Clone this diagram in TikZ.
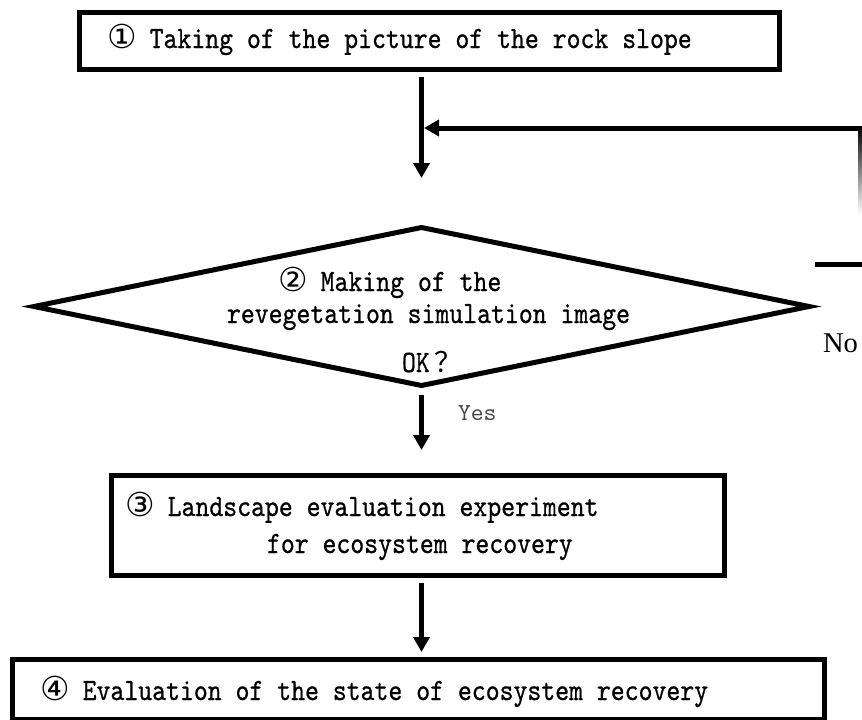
\documentclass[tikz,border=0pt]{standalone}
\usepackage{fontspec}
\usetikzlibrary{shapes.geometric,arrows.meta}

% condensed serif monospace for the step texts
\newfontfamily\flowfont{lmmono10-regular}[Extension=.otf, FakeStretch=0.854, FakeBold=0.7]
\newfontfamily\yesfont{lmmono10-regular}[Extension=.otf]
\newfontfamily\circfont{DejaVu Sans}
\newfontfamily\cjkfont{Noto Sans CJK SC}
\newfontfamily\notefont{Liberation Serif}

% circled step number in a full-width cell
\newcommand\cnum[1]{\makebox[27.8pt][c]{\fontsize{33}{33}\selectfont\circfont #1}}
% full-width question mark in a full-width cell
\newcommand\fwq{\makebox[27.8pt][l]{\hspace{5pt}\fontsize{28}{28}\selectfont\cjkfont ？}}

\begin{document}
\begin{tikzpicture}[x=1pt,y=1pt,
  every node/.style={inner sep=0pt, outer sep=0pt},
  stepbox/.style={draw, line width=5pt, rectangle},
  decision/.style={draw, line width=5pt, diamond, line join=miter},
  steptext/.style={anchor=base west, font=\fontsize{31}{34}\selectfont\flowfont},
  flow/.style={line width=5.5pt, -{Triangle[width=16pt,length=15pt]}},
  thickline/.style={line width=5pt},
]
\path[use as bounding box, clip] (0,0) rectangle (862,-720);

% process boxes and the decision
\node[stepbox, minimum width=700pt, minimum height=57pt]  (b1) at (429.5,-41) {};
\node[decision, minimum width=775pt, minimum height=158pt] (d) at (421.5,-306.5) {};
\node[stepbox, minimum width=613pt, minimum height=100pt] (b3) at (418,-525.5) {};
\node[stepbox, minimum width=812pt, minimum height=60pt]  (b4) at (418.5,-689.5) {};

% texts
\node[steptext] (t1)  at (108,-48)  {\cnum{①} Taking of the picture of the rock slope};
\node[steptext] (t2a) at (279,-291) {\cnum{②} Making of the};
\node[steptext] (t2b) at (227,-323)   {revegetation simulation image};
\node[steptext] (t2c) at (402,-372)   {OK\fwq};
\node[steptext] (t3a) at (126,-516) {\cnum{③} Landscape evaluation experiment};
\node[steptext] (t3b) at (267,-553)   {for ecosystem recovery};
\node[steptext] (t4)  at (41,-700)  {\cnum{④} Evaluation of the state of ecosystem recovery};
\node[anchor=base west, font=\fontsize{24.5}{28}\selectfont\yesfont, text=black!72] (yes) at (458,-420) {Yes};
\node[anchor=base west, font=\fontsize{28.6}{32}\selectfont\notefont] (no) at (823,-352) {No};

% main flow
\draw[flow, shorten <=7.5pt, shorten >=49.5pt] (b1.south -| d.north) -- (d.north);
\draw[flow, shorten <=9.5pt, shorten >=25.5pt] (d.south) -- (d.south |- b3.north);
\draw[flow, shorten <=7.5pt, shorten >=7.5pt] (b3.south -| d.south) -- (d.south |- b4.north);

% return path from the right
\coordinate (fbtop) at (870,-128);
\coordinate (nostub) at (815,-264);
\draw[flow, line width=5pt, shorten >=2.5pt] (fbtop) -- (fbtop -| d.north);
\shade[top color=black, middle color=black!55, bottom color=white] (858.5,-126) rectangle (861.5,-214);
\draw[thickline] (nostub) -- (nostub -| fbtop);
\end{tikzpicture}
\end{document}
